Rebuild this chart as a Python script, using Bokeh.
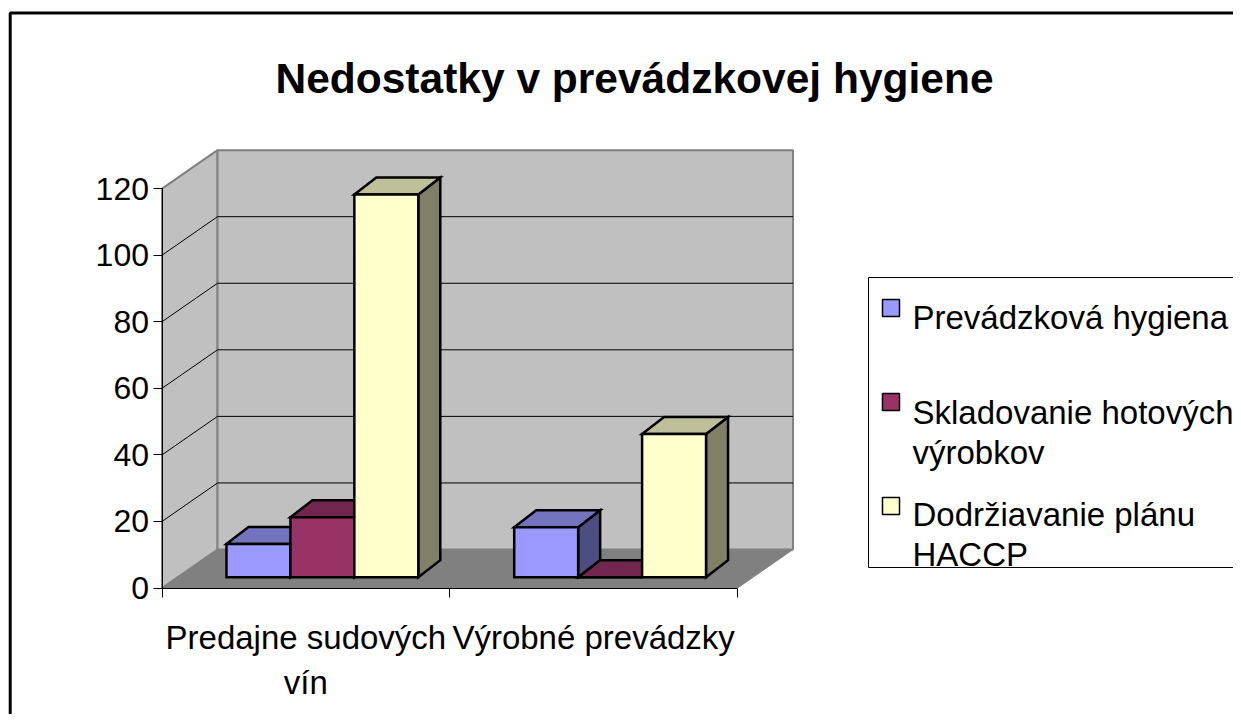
from bokeh.plotting import figure
from bokeh.models import Range1d, LinearAxis, FixedTicker, ColumnDataSource
from bokeh.core.properties import value
from bokeh.embed import file_html
from bokeh.resources import INLINE

# ---------------- data ----------------
title_text = "Nedostatky v prevádzkovej hygiene"
categories = ["Predajne sudových\nvín", "Výrobné prevádzky"]
series_names = ["Prevádzková hygiena", "Skladovanie hotových\nvýrobkov", "Dodržiavanie plánu\nHACCP"]
prevadzkova_hygiena = [10, 15]
skladovanie_vyrobkov = [18, 0]
dodrziavanie_haccp = [115, 43]
series_values = [prevadzkova_hygiena, skladovanie_vyrobkov, dodrziavanie_haccp]
y_ticks = [0, 20, 40, 60, 80, 100, 120]

# ---------------- style ----------------
front_colors = ["#9999FF", "#993366", "#FFFFCC"]
top_colors = ["#7373BF", "#73264D", "#BFBF99"]
side_colors = ["#4D4D80", "#4D1A33", "#808066"]
WALL = "#C0C0C0"
FLOOR = "#808080"
EDGE = "#808080"
FONT = "Liberation Sans"

W, H = 1233, 714
ORIGIN = 0                      # picture pixel where the canvas starts
PX_X0, PX_Y0 = 161.5, 587.5     # picture pixel of data origin
SX, SY = 287.75, 3.328          # pixels per category / per value unit


def X(px):
    return (px - PX_X0) / SX


def Y(py):
    return (PX_Y0 - py) / SY


def dX(px):
    return px / SX


def dY(py):
    return py / SY


n = len(categories)
y_max = y_ticks[-1]

p = figure(width=W, height=H,
           x_range=Range1d(X(ORIGIN), X(ORIGIN + W)),
           y_range=Range1d(Y(ORIGIN + H), Y(ORIGIN)),
           min_border=0, x_axis_type=None, y_axis_type=None,
           toolbar_location=None, output_backend="svg",
           outline_line_color=None, background_fill_color="white",
           border_fill_color="white")

# depth of the 3D box
DX, DY = dX(55.5), dY(38.5)

# walls and floor
p.patch([0, 0, DX, DX], [0, y_max, y_max + DY, DY], fill_color=WALL,
        line_color=EDGE, line_width=2)
p.patch([DX, DX + n, DX + n, DX], [DY, DY, y_max + DY, y_max + DY],
        fill_color=WALL, line_color=EDGE, line_width=2)
p.patch([0, n, n + DX, DX], [0, 0, DY, DY], fill_color=FLOOR,
        line_color=EDGE, line_width=1)

# gridlines
inner = [t for t in y_ticks if 0 < t < y_max]
p.segment(x0=[DX] * len(inner), y0=[t + DY for t in inner],
          x1=[DX + n] * len(inner), y1=[t + DY for t in inner],
          line_color="black", line_width=1)
p.segment(x0=[0] * len(inner), y0=inner,
          x1=[DX] * len(inner), y1=[t + DY for t in inner],
          line_color="black", line_width=1)

# bars
bw = 1 / 4.5
gap = 0.75 * bw
FSX, FSY = dX(16.5), dY(10.8)
BDX, BDY = dX(22), dY(17)
xs, ys, cols = [], [], []
for i in range(n):
    for j, vals in enumerate(series_values):
        v = vals[i]
        x0 = i + gap + j * bw + FSX
        x1 = x0 + bw
        b = FSY
        t = v + FSY
        # side
        xs.append([x1, x1 + BDX, x1 + BDX, x1])
        ys.append([b, b + BDY, t + BDY, t])
        cols.append(side_colors[j])
        # top
        xs.append([x0, x1, x1 + BDX, x0 + BDX])
        ys.append([t, t, t + BDY, t + BDY])
        cols.append(top_colors[j])
        # front
        xs.append([x0, x1, x1, x0])
        ys.append([b, b, t, t])
        cols.append(front_colors[j])
src = ColumnDataSource(dict(xs=xs, ys=ys, c=cols))
p.patches("xs", "ys", source=src, fill_color="c", line_color="black",
          line_width=2.5, line_join="miter")

# axes
yaxis = LinearAxis(fixed_location=0, ticker=FixedTicker(ticks=y_ticks),
                   bounds=(0, y_max), axis_line_color="black",
                   axis_line_width=1, major_tick_out=9, major_tick_in=0,
                   major_tick_line_color="black",
                   minor_tick_line_color=None,
                   major_label_text_font_size="32px",
                   major_label_text_font=FONT,
                   major_label_text_color="black",
                   major_label_standoff=4)
p.add_layout(yaxis, "left")

xaxis = LinearAxis(fixed_location=0,
                   ticker=FixedTicker(ticks=list(range(n + 1))),
                   bounds=(0, n), axis_line_color="black",
                   major_tick_out=9, major_tick_in=0,
                   major_tick_line_color="black",
                   minor_tick_line_color=None,
                   major_label_text_alpha=0)
p.add_layout(xaxis, "below")

# category labels
cx, cy, ct = [], [], []
for i, c in enumerate(categories):
    for k, line in enumerate(c.split("\n")):
        cx.append(i + 0.5)
        cy.append(Y(636.7 + 45 * k))
        ct.append(line)
p.text(x=cx, y=cy, text=ct, text_font=value(FONT), text_font_size="33px",
       text_align="center", text_baseline="alphabetic", text_color="black")

# title
p.text(x=[X(634)], y=[Y(78.3)], text=[title_text], text_font=value(FONT),
       text_font_size="42.5px", text_font_style="bold", text_align="center",
       text_baseline="alphabetic", text_color="black")

# legend
p.quad(left=[X(868)], right=[X(1300)], top=[Y(277)], bottom=[Y(567)],
       fill_color="white", line_color="black", line_width=1)
sq_top = [299, 393, 497]
base1 = [316.7, 411.7, 513.5]
lx, ly, lt = [], [], []
for j, name in enumerate(series_names):
    p.quad(left=[X(882)], right=[X(899)], top=[Y(sq_top[j])],
           bottom=[Y(sq_top[j] + 17)], fill_color=front_colors[j],
           line_color="black", line_width=1.5)
    for k, line in enumerate(name.split("\n")):
        lx.append(X(912))
        ly.append(Y(base1[j] + 40 * k))
        lt.append(line)
p.text(x=lx, y=ly, text=lt, text_font=value(FONT), text_font_size="33px",
       text_align="left", text_baseline="alphabetic", text_color="black")

# chart border
p.quad(left=[X(9.7)], right=[X(1400)], top=[Y(12.5)], bottom=[Y(900)],
       fill_color=None, line_color="black", line_width=3)

open("out.html", "w").write(file_html(p, INLINE))
